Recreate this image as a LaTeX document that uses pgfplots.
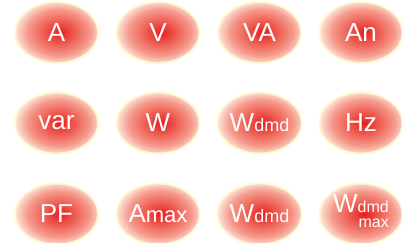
\documentclass[border=0pt]{standalone}
\usepackage{pgfplots}
\pgfplotsset{compat=1.18}
\usepackage{fontspec}
\setmainfont{Liberation Sans}
\usetikzlibrary{shapes.geometric}
\definecolor{c1}{RGB}{230,30,32}
\definecolor{c2}{RGB}{238,90,80}
\definecolor{c3}{RGB}{245,155,140}
\definecolor{c4}{RGB}{253,228,218}
\definecolor{rim}{RGB}{255,249,205}
\pgfdeclareradialshading{ellshade}{\pgfpoint{2bp}{0bp}}{color(0bp)=(c1); color(9bp)=(c2); color(19bp)=(c3); color(26bp)=(c4); color(50bp)=(c4)}
\protected\def\Wdmd{W{\fontsize{18}{18}\selectfont dmd}}
\protected\def\Amax{A{\fontsize{22}{22}\selectfont max}}
\protected\def\Wdmdmax{W{\fontsize{16}{17}\selectfont\begin{tabular}[t]{@{}r@{}}dmd\\[-2pt]max\end{tabular}}}
\begin{document}
\begin{tikzpicture}
\path[use as bounding box, clip] (0,0) rectangle (402pt,242pt);
\begin{axis}[
  scale only axis, width=402pt, height=242pt,
  xmin=0, xmax=402, ymin=0, ymax=242, y dir=reverse,
  hide axis, clip=false,
]
\addplot[only marks, mark=none,
  point meta=explicit symbolic,
  nodes near coords,
  every node near coord/.style={
    anchor=center, ellipse, inner sep=0pt,
    minimum width=83pt, minimum height=61pt,
    shading=ellshade, draw=rim, line width=1.8pt,
    text=white, font=\fontsize{26}{26}\selectfont
  }]
coordinates {
(56.5,32.5) [A]
(158,32.5) [V]
(259.5,32.5) [VA]
(361,32.5) [An]
(56.5,123) [var]
(158,123) [W]
(259.5,123) [\Wdmd]
(361,123) [Hz]
(56.5,214) [PF]
(158,214) [\Amax]
(259.5,214) [\Wdmd]
(361,214) [\Wdmdmax]
};
\end{axis}
\end{tikzpicture}
\end{document}
